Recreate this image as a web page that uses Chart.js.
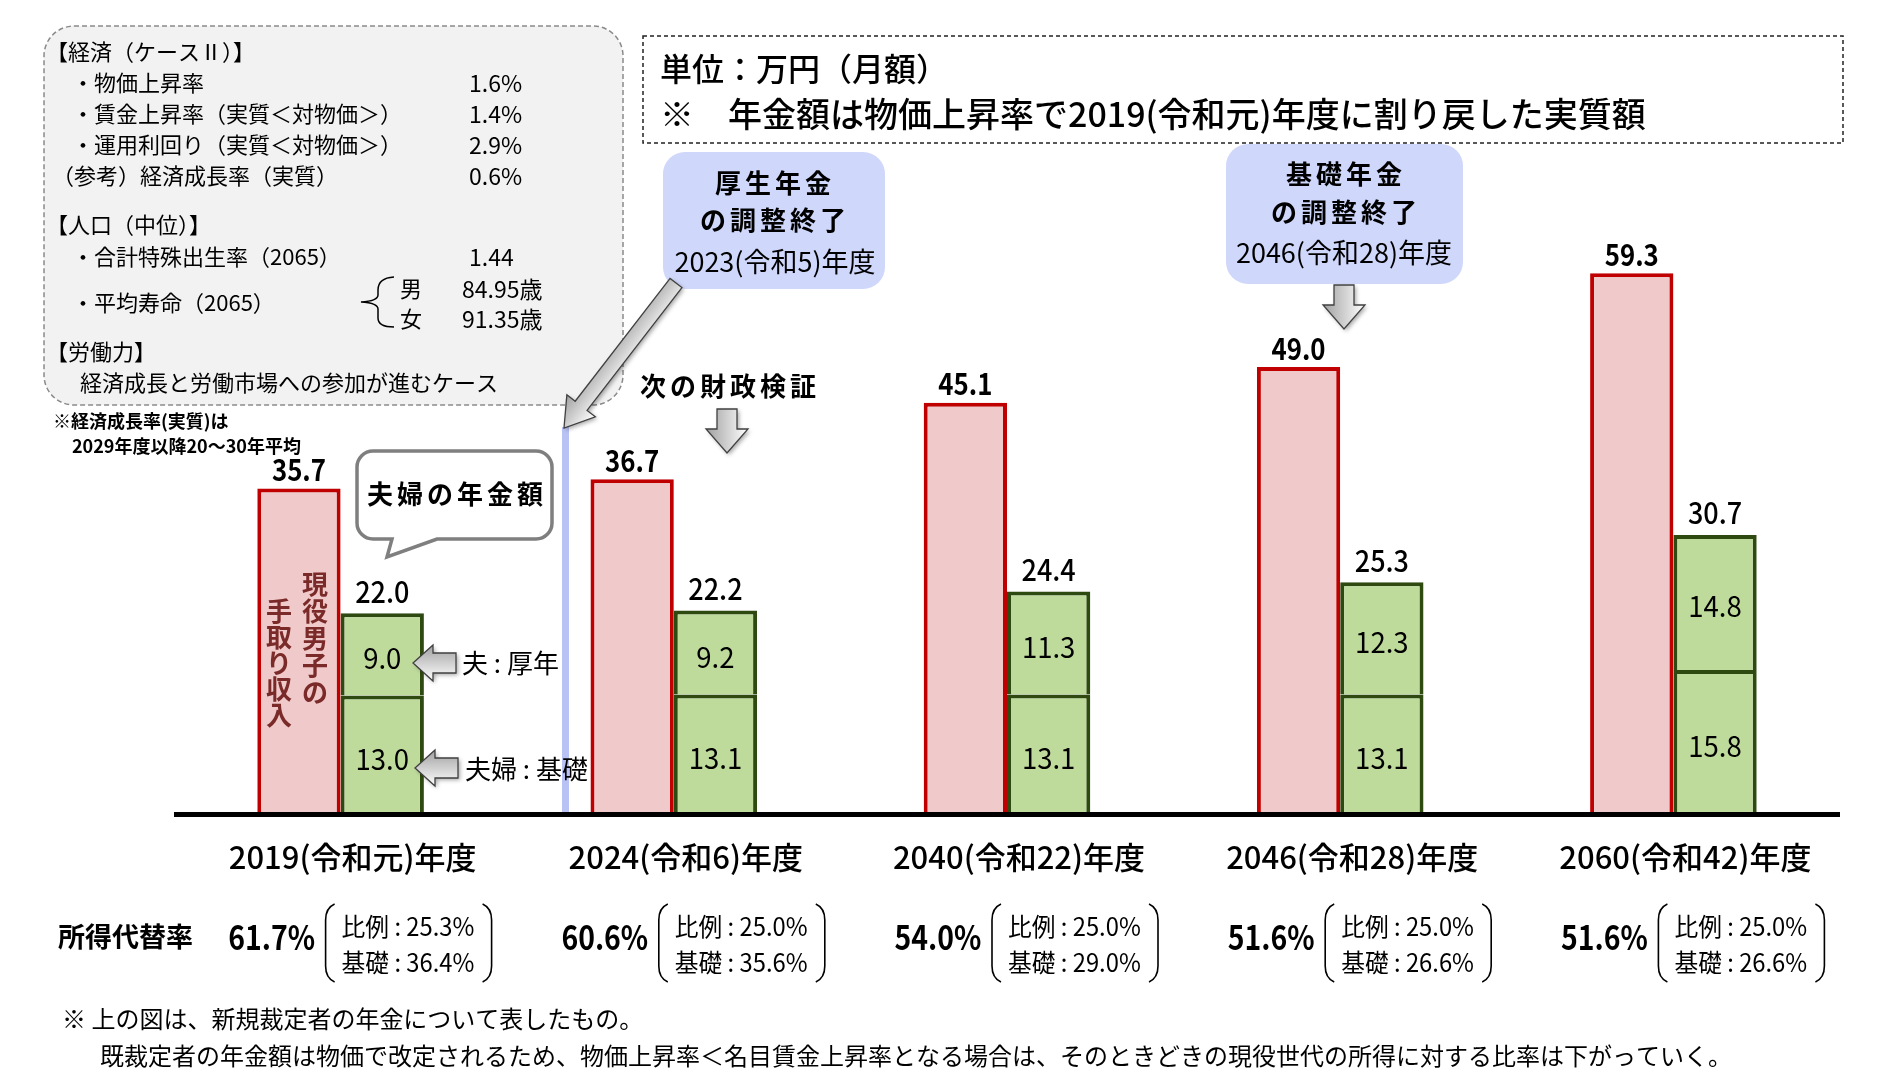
<!DOCTYPE html>
<html lang="ja">
<head>
<meta charset="utf-8">
<title>年金額の見通し</title>
<script src="https://cdn.jsdelivr.net/npm/chart.js@4.4.1/dist/chart.umd.min.js"></script>
<style>
  html, body { margin: 0; padding: 0; background: #fff; }
  #wrap { width: 1886px; height: 1086px; }
</style>
</head>
<body>
<div id="wrap"><canvas id="pensionChart" width="1886" height="1086"></canvas></div>
<script>
const categories = ["2019(令和元)年度", "2024(令和6)年度", "2040(令和22)年度", "2046(令和28)年度", "2060(令和42)年度"];
const wageValues = [35.7, 36.7, 45.1, 49.0, 59.3];
const basicValues = [13.0, 13.1, 13.1, 13.1, 15.8];
const employeeValues = [9.0, 9.2, 11.3, 12.3, 14.8];
const pensionTotals = [22.0, 22.2, 24.4, 25.3, 30.7];
const replacementRates = ["61.7%", "60.6%", "54.0%", "51.6%", "51.6%"];
const proportionalRates = ["25.3%", "25.0%", "25.0%", "25.0%", "25.0%"];
const basicRates = ["36.4%", "35.6%", "29.0%", "26.6%", "26.6%"];

const JP = '"Noto Sans CJK JP", "Noto Sans", sans-serif';
const MIX = '"Liberation Sans Narrow", "Noto Sans CJK JP", sans-serif';

function roundRect(ctx, x, y, w, h, r) {
  ctx.beginPath();
  ctx.moveTo(x + r, y);
  ctx.arcTo(x + w, y, x + w, y + h, r);
  ctx.arcTo(x + w, y + h, x, y + h, r);
  ctx.arcTo(x, y + h, x, y, r);
  ctx.arcTo(x, y, x + w, y, r);
  ctx.closePath();
}

// draws text, optionally squeezed horizontally (the original uses a narrow face)
function text(ctx, str, x, y, font, align, color, sx) {
  sx = sx || 1;
  ctx.save();
  ctx.font = font;
  ctx.textAlign = align || "left";
  ctx.textBaseline = "middle";
  ctx.fillStyle = color || "#000";
  ctx.translate(x, y);
  ctx.scale(sx, 1);
  ctx.fillText(str, 0, 0);
  ctx.restore();
}

function spaced(ctx, str, cx, y, font, step) {
  ctx.font = font;
  ctx.textAlign = "center";
  ctx.textBaseline = "middle";
  ctx.fillStyle = "#000";
  const chars = Array.from(str);
  const start = cx - (step * (chars.length - 1)) / 2;
  chars.forEach((ch, i) => ctx.fillText(ch, start + i * step, y));
}

function blockArrow(ctx, x0, y0, x1, y1, shaftW, headW, headL) {
  const len = Math.hypot(x1 - x0, y1 - y0);
  ctx.save();
  ctx.translate(x0, y0);
  ctx.rotate(Math.atan2(y1 - y0, x1 - x0));
  ctx.beginPath();
  ctx.moveTo(0, -shaftW / 2);
  ctx.lineTo(len - headL, -shaftW / 2);
  ctx.lineTo(len - headL, -headW / 2);
  ctx.lineTo(len, 0);
  ctx.lineTo(len - headL, headW / 2);
  ctx.lineTo(len - headL, shaftW / 2);
  ctx.lineTo(0, shaftW / 2);
  ctx.closePath();
  const g = ctx.createLinearGradient(0, -headW / 2, 0, headW / 2);
  g.addColorStop(0, "#ffffff");
  g.addColorStop(1, "#a0a0a0");
  ctx.shadowColor = "rgba(0,0,0,0.35)";
  ctx.shadowBlur = 4;
  ctx.shadowOffsetX = 2;
  ctx.shadowOffsetY = 2;
  ctx.fillStyle = g;
  ctx.fill();
  ctx.shadowColor = "transparent";
  ctx.strokeStyle = "#404040";
  ctx.lineWidth = 1.3;
  ctx.stroke();
  ctx.restore();
}

function paren(ctx, left, right, top, bottom) {
  ctx.save();
  ctx.strokeStyle = "#000";
  ctx.lineWidth = 1.6;
  ctx.beginPath();
  ctx.moveTo(left + 9, top);
  ctx.quadraticCurveTo(left, top + 4, left, top + 16);
  ctx.lineTo(left, bottom - 16);
  ctx.quadraticCurveTo(left, bottom - 4, left + 9, bottom);
  ctx.moveTo(right - 9, top);
  ctx.quadraticCurveTo(right, top + 4, right, top + 16);
  ctx.lineTo(right, bottom - 16);
  ctx.quadraticCurveTo(right, bottom - 4, right - 9, bottom);
  ctx.stroke();
  ctx.restore();
}

const decorations = {
  id: "decorations",
  afterDraw(chart) {
    const ctx = chart.ctx;
    const area = chart.chartArea;
    const xs = chart.scales.x;
    ctx.save();

    // assumptions box
    roundRect(ctx, 44, 26, 579, 379, 30);
    ctx.fillStyle = "#f2f2f2";
    ctx.fill();
    ctx.setLineDash([5, 3]);
    ctx.strokeStyle = "#8a8a8a";
    ctx.lineWidth = 1.5;
    ctx.stroke();
    ctx.setLineDash([]);

    const f = "22px " + MIX;
    text(ctx, "【経済（ケースⅡ）】", 46, 52, f);
    text(ctx, "・物価上昇率", 72, 83, f);
    text(ctx, "・賃金上昇率（実質＜対物価＞）", 72, 114, f);
    text(ctx, "・運用利回り（実質＜対物価＞）", 72, 145, f);
    text(ctx, "（参考）経済成長率（実質）", 52, 176, f);
    ["1.6%", "1.4%", "2.9%", "0.6%"].forEach((v, i) => text(ctx, v, 469, 83 + i * 31, "23px " + MIX));
    text(ctx, "【人口（中位）】", 46, 225, f);
    text(ctx, "・合計特殊出生率（2065）", 72, 257, f);
    text(ctx, "1.44", 469, 257, "23px " + MIX);
    text(ctx, "・平均寿命（2065）", 72, 303, f);
    text(ctx, "男", 400, 289, f);
    text(ctx, "女", 400, 319, f);
    text(ctx, "84.95歳", 462, 289, "23px " + MIX);
    text(ctx, "91.35歳", 462, 319, "23px " + MIX);
    ctx.strokeStyle = "#000";
    ctx.lineWidth = 1.5;
    ctx.beginPath();
    ctx.moveTo(394, 277);
    ctx.quadraticCurveTo(378, 278, 378, 290);
    ctx.lineTo(378, 295);
    ctx.quadraticCurveTo(378, 301, 361, 302);
    ctx.quadraticCurveTo(378, 303, 378, 309);
    ctx.lineTo(378, 318);
    ctx.quadraticCurveTo(378, 327, 394, 327);
    ctx.stroke();
    text(ctx, "【労働力】", 46, 352, f);
    text(ctx, "経済成長と労働市場への参加が進むケース", 80, 383, f);
    text(ctx, "※経済成長率(実質)は", 53, 421, "bold 18px " + MIX);
    text(ctx, "2029年度以降20～30年平均", 72, 446, "bold 18px " + MIX);

    // unit box
    ctx.setLineDash([4, 3]);
    ctx.strokeStyle = "#222";
    ctx.lineWidth = 1.5;
    ctx.strokeRect(643, 36, 1200, 107);
    ctx.setLineDash([]);
    text(ctx, "単位：万円（月額）", 660, 69, "500 32px " + MIX);
    text(ctx, "※　年金額は物価上昇率で2019(令和元)年度に割り戻した実質額", 660, 114, "500 34px " + MIX);

    // callouts
    roundRect(ctx, 663, 152, 222, 137, 22);
    ctx.fillStyle = "#cfd7fb";
    ctx.fill();
    spaced(ctx, "厚生年金", 773, 183, "bold 26px " + JP, 30);
    spaced(ctx, "の調整終了", 773, 220, "bold 26px " + JP, 30);
    text(ctx, "2023(令和5)年度", 775, 262, "27px " + MIX, "center");

    roundRect(ctx, 1226, 144, 237, 140, 22);
    ctx.fillStyle = "#cfd7fb";
    ctx.fill();
    spaced(ctx, "基礎年金", 1344, 174, "bold 26px " + JP, 30);
    spaced(ctx, "の調整終了", 1344, 212, "bold 26px " + JP, 30);
    text(ctx, "2046(令和28)年度", 1344, 253, "27px " + MIX, "center");
    blockArrow(ctx, 1344, 285, 1344, 329, 20, 42, 24);

    spaced(ctx, "次の財政検証", 728, 386, "bold 26px " + JP, 30);
    blockArrow(ctx, 727, 409, 727, 453, 20, 42, 24);

    // boundary line and pointer
    ctx.fillStyle = "#b8c2f4";
    ctx.fillRect(562, 427, 7, area.bottom - 427);
    blockArrow(ctx, 676, 283, 564, 428, 15, 36, 28);

    // speech bubble
    ctx.beginPath();
    const bx = 357, by = 451, bw = 195, bh = 88, r = 16;
    ctx.moveTo(bx + r, by);
    ctx.arcTo(bx + bw, by, bx + bw, by + bh, r);
    ctx.arcTo(bx + bw, by + bh, bx, by + bh, r);
    ctx.lineTo(437, by + bh);
    ctx.lineTo(387, 557);
    ctx.lineTo(392, by + bh);
    ctx.arcTo(bx, by + bh, bx, by, r);
    ctx.arcTo(bx, by, bx + bw, by, r);
    ctx.closePath();
    ctx.fillStyle = "#fff";
    ctx.fill();
    ctx.strokeStyle = "#7f7f7f";
    ctx.lineWidth = 3.5;
    ctx.stroke();
    spaced(ctx, "夫婦の年金額", 455, 494, "bold 26px " + JP, 30);

    // vertical label in first wage bar
    const wageBar = chart.getDatasetMeta(0).data[0];
    ctx.font = "bold 26px " + JP;
    ctx.fillStyle = "#7b2a2a";
    ctx.textAlign = "center";
    ctx.textBaseline = "middle";
    Array.from("現役男子の").forEach((ch, i) => ctx.fillText(ch, wageBar.x + 16, 584 + i * 27));
    Array.from("手取り収入").forEach((ch, i) => ctx.fillText(ch, wageBar.x - 20, 611 + i * 26));

    // segment pointers
    blockArrow(ctx, 456, 663, 413, 663, 20, 36, 20);
    blockArrow(ctx, 458, 768, 415, 768, 20, 36, 20);
    text(ctx, "夫 : 厚年", 462, 663, "26px " + MIX);
    text(ctx, "夫婦 : 基礎", 465, 769, "26px " + MIX);

    // baseline
    ctx.fillStyle = "#000";
    ctx.fillRect(area.left, area.bottom - 2, area.right - area.left, 5);

    // category labels and replacement rates
    categories.forEach((c, i) => {
      const cx = xs.getPixelForValue(i);
      text(ctx, c, cx + 12, 857, "500 31px " + MIX, "center");
      text(ctx, replacementRates[i], cx - 69, 937, "bold 33px " + MIX, "center", "#000", 0.86);
      paren(ctx, cx - 15, cx + 151, 904, 982);
      text(ctx, "比例 : " + proportionalRates[i], cx + 1, 926, "25px " + MIX, "left", "#000", 0.95);
      text(ctx, "基礎 : " + basicRates[i], cx + 1, 962, "25px " + MIX, "left", "#000", 0.95);
    });
    text(ctx, "所得代替率", 58, 937, "bold 27px " + JP);

    // footnotes
    text(ctx, "※ 上の図は、新規裁定者の年金について表したもの。", 62, 1019, "24px " + JP);
    text(ctx, "既裁定者の年金額は物価で改定されるため、物価上昇率＜名目賃金上昇率となる場合は、そのときどきの現役世代の所得に対する比率は下がっていく。", 100, 1056, "24px " + JP);

    ctx.restore();
  }
};

const valueLabels = {
  id: "valueLabels",
  afterDatasetsDraw(chart) {
    const ctx = chart.ctx;
    const wage = chart.getDatasetMeta(0).data;
    const basic = chart.getDatasetMeta(1).data;
    const emp = chart.getDatasetMeta(2).data;
    wage.forEach((bar, i) => {
      text(ctx, wageValues[i].toFixed(1), bar.x, bar.y - 19, "bold 30px " + MIX, "center", "#000", 0.86);
      text(ctx, pensionTotals[i].toFixed(1), emp[i].x, emp[i].y - 22, "500 30px " + MIX, "center", "#000", 0.9);
      text(ctx, employeeValues[i].toFixed(1), emp[i].x, (emp[i].y + emp[i].base) / 2 + 4, "29px " + MIX, "center", "#000", 0.95);
      text(ctx, basicValues[i].toFixed(1), basic[i].x, (basic[i].y + basic[i].base) / 2 + 4, "29px " + MIX, "center", "#000", 0.95);
    });
  }
};

new Chart(document.getElementById("pensionChart"), {
  type: "bar",
  data: {
    labels: categories,
    datasets: [
      {
        label: "現役男子の手取り収入",
        data: wageValues,
        stack: "wage",
        backgroundColor: "#f0caca",
        borderColor: "#c00000",
        borderWidth: 4
      },
      {
        label: "夫婦：基礎",
        data: basicValues,
        stack: "pension",
        backgroundColor: "#bfdb9c",
        borderColor: "#2f4a10",
        borderWidth: 4
      },
      {
        label: "夫：厚年",
        data: employeeValues,
        stack: "pension",
        backgroundColor: "#bfdb9c",
        borderColor: "#2f4a10",
        borderWidth: 4
      }
    ]
  },
  options: {
    responsive: false,
    animation: false,
    devicePixelRatio: 1,
    categoryPercentage: 0.5,
    barPercentage: 1.0,
    layout: {
      padding: { left: 174, right: 46, top: 175.6, bottom: 272 }
    },
    plugins: {
      legend: { display: false },
      tooltip: { enabled: false }
    },
    scales: {
      x: { stacked: true, display: false },
      y: { stacked: true, display: false, min: 0, max: 70 }
    }
  },
  plugins: [valueLabels, decorations]
});
</script>
</body>
</html>
